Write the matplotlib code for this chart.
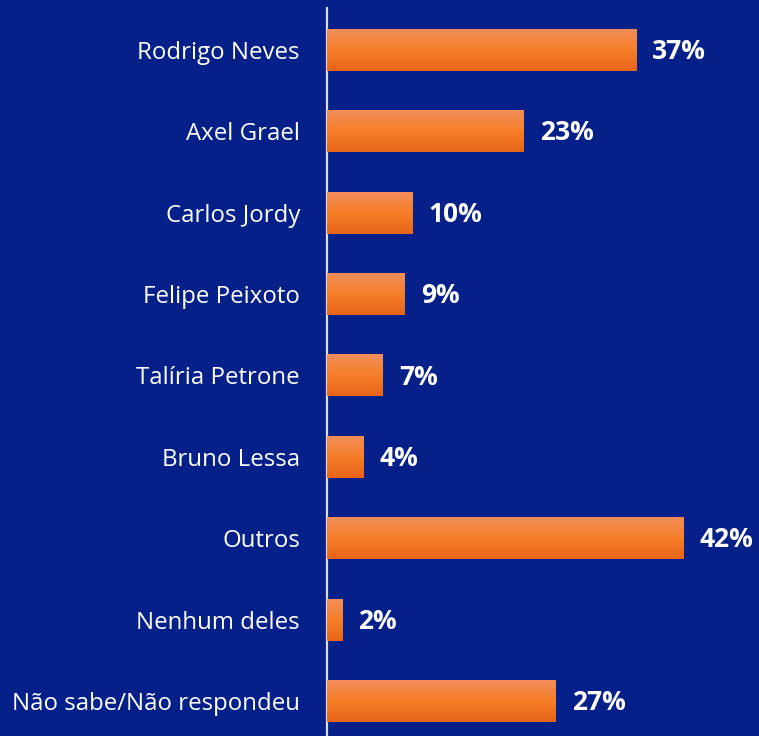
import matplotlib
matplotlib.use("Agg")
import matplotlib.pyplot as plt
import numpy as np
from matplotlib.colors import LinearSegmentedColormap

categories = ["Rodrigo Neves", "Axel Grael", "Carlos Jordy", "Felipe Peixoto",
              "Talíria Petrone", "Bruno Lessa", "Outros", "Nenhum deles",
              "Não sabe/Não respondeu"]
values = [36.6, 23.3, 10.1, 9.2, 6.6, 4.3, 42.2, 1.8, 27.1]
labels = ["37%", "23%", "10%", "9%", "7%", "4%", "42%", "2%", "27%"]

bg = "#06208A"
plt.rcParams['font.family'] = ['Open Sans', 'DejaVu Sans']

fig = plt.figure(figsize=(7.59, 7.36), dpi=100, facecolor=bg)
ax = fig.add_axes([327/759, 0, 1 - 327/759, 1 - 8/736])
ax.set_facecolor(bg)

y = np.arange(len(categories))
bh = 0.516
bars = ax.barh(y, values, height=bh, color="#F57D2A", zorder=2)

cmap = LinearSegmentedColormap.from_list("g", ["#F28E5A", "#F67E28", "#E86419"])
grad = np.linspace(0, 1, 64).reshape(-1, 1)
for b in bars:
    x0, yb = b.get_x(), b.get_y()
    w, h = b.get_width(), b.get_height()
    ax.imshow(grad, cmap=cmap, extent=(x0, x0 + w, yb + h, yb), aspect="auto",
              zorder=3, interpolation="bicubic")

for yi, v, lab in zip(y, values, labels):
    ax.text(v + 1.9, yi + 0.02, lab, va="center", ha="left", color="white",
            fontsize=19, fontweight="bold", zorder=4)

ax.set_xlim(0, 432 / 8.45)
ax.set_ylim(8.43, -0.516)
ax.set_yticks(y)
ax.set_yticklabels(categories, color="white", fontsize=17.3)
ax.tick_params(axis="y", length=0, pad=19.5)
ax.set_xticks([])
for s in ["top", "right", "bottom"]:
    ax.spines[s].set_visible(False)
ax.spines["left"].set_color("#D8DCEA")
ax.spines["left"].set_linewidth(1.6)

fig.savefig("out.png", dpi=100, facecolor=bg)
